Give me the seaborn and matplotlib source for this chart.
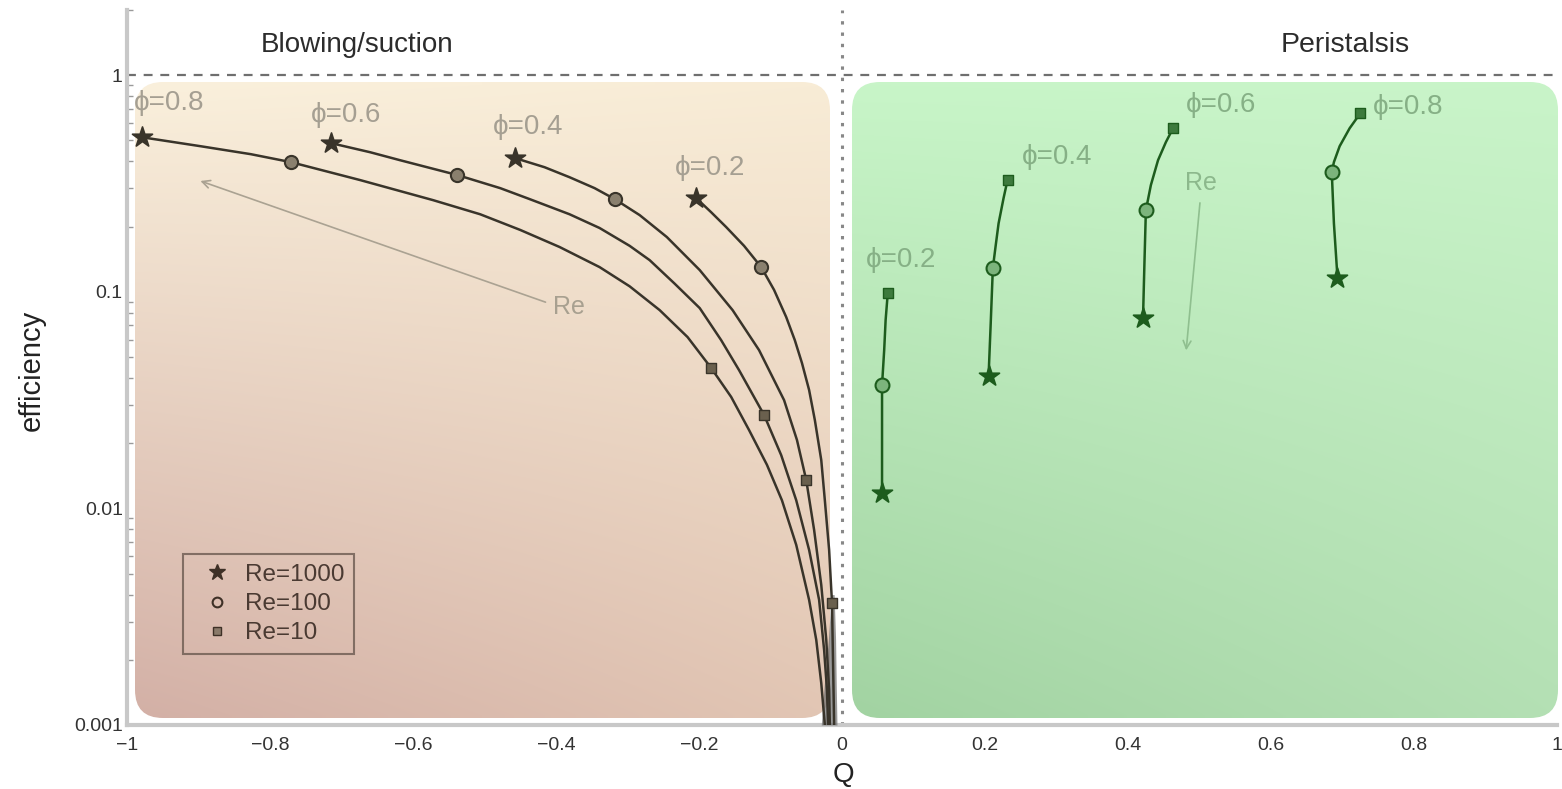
import numpy as np
import pandas as pd
import matplotlib
matplotlib.use("Agg")
import matplotlib.pyplot as plt
import matplotlib.colors as mcolors
from matplotlib.patches import FancyBboxPatch
from matplotlib.lines import Line2D
import seaborn as sns

###1: Data
phi_labels = ["\u03d5=0.8", "\u03d5=0.6", "\u03d5=0.4", "\u03d5=0.2"]

# blowing / suction curves, from the Re=1000 end down to Q~0
blow_q = {
    "0.8": [-0.979, -0.897, -0.827, -0.771, -0.674, -0.572, -0.506, -0.450, -0.395, -0.339, -0.297, -0.255,
            -0.216, -0.183, -0.155, -0.130, -0.105, -0.084, -0.064, -0.046, -0.036, -0.029, -0.024],
    "0.6": [-0.715, -0.660, -0.618, -0.538, -0.478, -0.437, -0.381, -0.339, -0.297, -0.269, -0.234, -0.199,
            -0.169, -0.144, -0.109, -0.085, -0.064, -0.046, -0.032, -0.025, -0.021, -0.0195],
    "0.4": [-0.457, -0.416, -0.381, -0.346, -0.318, -0.283, -0.245, -0.199, -0.153, -0.116, -0.081, -0.063,
            -0.050, -0.039, -0.029, -0.022, -0.018, -0.017],
    "0.2": [-0.204, -0.183, -0.162, -0.137, -0.113, -0.095, -0.078, -0.066, -0.056, -0.046, -0.038, -0.029,
            -0.024, -0.018, -0.014, -0.0126, -0.011],
}
blow_eff = {
    "0.8": [0.517, 0.470, 0.432, 0.397, 0.328, 0.265, 0.228, 0.193, 0.161, 0.130, 0.106, 0.0823,
            0.0618, 0.0445, 0.0327, 0.0230, 0.0159, 0.0109, 0.00678, 0.00378, 0.00247, 0.00156, 0.001],
    "0.6": [0.486, 0.441, 0.405, 0.346, 0.301, 0.268, 0.228, 0.197, 0.163, 0.140, 0.109, 0.0841,
            0.0598, 0.0435, 0.0270, 0.0176, 0.0109, 0.00643, 0.00378, 0.00222, 0.00145, 0.001],
    "0.4": [0.414, 0.376, 0.338, 0.301, 0.268, 0.226, 0.179, 0.126, 0.0823, 0.0538, 0.0316, 0.0207,
            0.0135, 0.00795, 0.00443, 0.00247, 0.00145, 0.001],
    "0.2": [0.271, 0.233, 0.199, 0.163, 0.130, 0.102, 0.0764, 0.0598, 0.0469, 0.0352, 0.0256, 0.0167,
            0.0109, 0.00643, 0.00366, 0.00200, 0.001],
}
# markers on blowing curves: Re=1000, Re=100, Re=10
blow_star_q = [-0.979, -0.715, -0.457, -0.204]
blow_star_eff = [0.517, 0.486, 0.414, 0.271]
blow_circ_q = [-0.771, -0.538, -0.318, -0.113]
blow_circ_eff = [0.397, 0.346, 0.268, 0.130]
blow_sq_q = [-0.183, -0.109, -0.050, -0.014]
blow_sq_eff = [0.0445, 0.0270, 0.0135, 0.00366]

# peristalsis curves, from Re=10 (top) to Re=1000 (bottom)
peri_q = {
    "0.2": [0.064, 0.061, 0.059, 0.056, 0.056, 0.056],
    "0.4": [0.2315, 0.226, 0.219, 0.215, 0.211, 0.208, 0.205],
    "0.6": [0.463, 0.453, 0.442, 0.432, 0.425, 0.423, 0.421],
    "0.8": [0.725, 0.710, 0.696, 0.688, 0.685, 0.688, 0.693],
}
peri_eff = {
    "0.2": [0.0986, 0.0740, 0.0538, 0.0371, 0.0207, 0.0118],
    "0.4": [0.328, 0.271, 0.207, 0.164, 0.129, 0.0717, 0.0408],
    "0.6": [0.569, 0.491, 0.405, 0.311, 0.238, 0.136, 0.0756],
    "0.8": [0.668, 0.569, 0.470, 0.397, 0.357, 0.207, 0.116],
}
peri_sq_q = [0.064, 0.2315, 0.463, 0.725]
peri_sq_eff = [0.0986, 0.328, 0.569, 0.668]
peri_circ_q = [0.056, 0.211, 0.425, 0.685]
peri_circ_eff = [0.0371, 0.129, 0.238, 0.357]
peri_star_q = [0.056, 0.205, 0.421, 0.693]
peri_star_eff = [0.0118, 0.0408, 0.0756, 0.116]

# grey bundle of curves squeezed near Q=0
bundle_eff = [0.001, 0.0015, 0.0025, 0.004]
bundle_left = [-0.029, -0.025, -0.019, -0.015]
bundle_right = [-0.007, -0.008, -0.009, -0.011]

x_ticks = [-1, -0.8, -0.6, -0.4, -0.2, 0, 0.2, 0.4, 0.6, 0.8, 1]
x_ticklabels = ["\u22121", "\u22120.8", "\u22120.6", "\u22120.4", "\u22120.2", "0", "0.2", "0.4", "0.6", "0.8", "1"]
y_ticks = [0.001, 0.01, 0.1, 1]
y_ticklabels = ["0.001", "0.01", "0.1", "1"]

###2: Style
sns.set_theme(style="white")
plt.rcParams["font.family"] = ["Liberation Sans", "DejaVu Sans"]

fig = plt.figure(figsize=(15.62, 7.89), dpi=100)

#background panels (pixel coordinates)
bg = fig.add_axes([0, 0, 1, 1], zorder=0)
bg.set_xlim(0, 1562)
bg.set_ylim(789, 0)
bg.axis("off")

def grad_box(x0, y0, x1, y1, c_tl, c_tr, c_bl, c_br):
    cols = [np.array(mcolors.to_rgb(c)) for c in (c_tl, c_tr, c_bl, c_br)]
    v = np.linspace(0, 1, 120)[:, None, None]
    h = np.linspace(0, 1, 120)[None, :, None]
    img = (1 - v) * ((1 - h) * cols[0] + h * cols[1]) + v * ((1 - h) * cols[2] + h * cols[3])
    im = bg.imshow(img, extent=[x0, x1, y1, y0], aspect="auto", interpolation="bilinear")
    box = FancyBboxPatch((x0, y0), x1 - x0, y1 - y0, boxstyle="round,pad=0,rounding_size=28",
                         facecolor="none", edgecolor="none", transform=bg.transData)
    bg.add_patch(box)
    im.set_clip_path(box)

grad_box(135, 82, 830, 718, "#faf0dc", "#f8ecd6", "#d3b0a6", "#e2c6b4")
grad_box(852, 82, 1558, 718, "#c8f5c8", "#c9f4c9", "#a2d3a2", "#b4e0b4")

ax = fig.add_axes([127 / 1562, 64 / 789, 1430 / 1562, 715 / 789], zorder=1)
ax.patch.set_alpha(0)

###3: Curves
dark = "#39342a"
green = "#1d5c1d"

ax.fill_betweenx(bundle_eff, bundle_left, bundle_right, color="#6e6e6e", alpha=0.7, lw=0, zorder=3)

for k in ["0.8", "0.6", "0.4", "0.2"]:
    sns.lineplot(x=blow_q[k], y=blow_eff[k], ax=ax, sort=False, estimator=None,
                 color=dark, lw=1.8, zorder=4)
for k in ["0.2", "0.4", "0.6", "0.8"]:
    sns.lineplot(x=peri_q[k], y=peri_eff[k], ax=ax, sort=False, estimator=None,
                 color=green, lw=1.8, zorder=4)

# markers
sns.scatterplot(x=blow_star_q, y=blow_star_eff, ax=ax, marker="*", s=230, color=dark, edgecolor=dark, zorder=5)
sns.scatterplot(x=blow_circ_q, y=blow_circ_eff, ax=ax, marker="o", s=90, color="#8a806e", edgecolor=dark, linewidth=1.5, zorder=5)
sns.scatterplot(x=blow_sq_q, y=blow_sq_eff, ax=ax, marker="s", s=60, color="#6a604e", edgecolor=dark, linewidth=1, zorder=5)
sns.scatterplot(x=peri_star_q, y=peri_star_eff, ax=ax, marker="*", s=230, color=green, edgecolor=green, zorder=5)
sns.scatterplot(x=peri_circ_q, y=peri_circ_eff, ax=ax, marker="o", s=100, color="#7cb47c", edgecolor=green, linewidth=1.5, zorder=5)
sns.scatterplot(x=peri_sq_q, y=peri_sq_eff, ax=ax, marker="s", s=60, color="#3d7a3d", edgecolor=green, linewidth=1, zorder=5)

###4: Reference lines and annotations
ax.axhline(1, color="#6f6f6f", ls=(0, (4, 3.5)), lw=1.6, zorder=2)
ax.axvline(0, color="#888888", ls=(0, (1.1, 2.6)), lw=2.2, zorder=2)

ax.text(-0.678, 1.375, "Blowing/suction", fontsize=20, color="#2c2c2c", ha="center", va="center")
ax.text(0.704, 1.375, "Peristalsis", fontsize=20.5, color="#2c2c2c", ha="center", va="center")

left_lab = [(-0.990, 0.743), (-0.743, 0.654), (-0.488, 0.575), (-0.234, 0.372)]
for lab, (qx, ey) in zip(phi_labels, left_lab):
    ax.text(qx, ey, lab, fontsize=20, color="#a59f92", ha="left", va="center", zorder=6)
right_lab = [(0.742, 0.712), (0.481, 0.727), (0.251, 0.418), (0.0335, 0.140)]
for lab, (qx, ey) in zip(phi_labels, right_lab):
    ax.text(qx, ey, lab, fontsize=20, color="#86b086", ha="left", va="center", zorder=6)

ax.annotate("", xy=(-0.901, 0.328), xytext=(-0.411, 0.0887),
            arrowprops=dict(arrowstyle="->", color="#aaa292", lw=1.2, mutation_scale=14))
ax.text(-0.404, 0.085, "Re", fontsize=18, color="#a8a090", ha="left", va="center")
ax.annotate("", xy=(0.481, 0.0521), xytext=(0.501, 0.265),
            arrowprops=dict(arrowstyle="->", color="#8fbf8f", lw=1.2, mutation_scale=14))
ax.text(0.502, 0.317, "Re", fontsize=18, color="#8cb88c", ha="center", va="center")

# legend
handles = [
    Line2D([], [], ls="none", marker="*", markersize=12, color="#3e3026"),
    Line2D([], [], ls="none", marker="o", markersize=7, markerfacecolor="none", markeredgecolor="#3e3026", markeredgewidth=1.5),
    Line2D([], [], ls="none", marker="s", markersize=6, markerfacecolor="#8a7a6a", markeredgecolor="#3e3026"),
]
leg = ax.legend(handles, ["Re=1000", "Re=100", "Re=10"], loc="lower left",
                bbox_to_anchor=(0.039, 0.099), borderaxespad=0, frameon=True, fancybox=False,
                fontsize=17.5, labelspacing=0.3, handletextpad=0.15, handlelength=2.0,
                borderpad=0.4)
leg.get_frame().set_facecolor("none")
leg.get_frame().set_edgecolor("#6b5a50")
leg.get_frame().set_linewidth(1.5)
for t in leg.get_texts():
    t.set_color("#4a3a32")

###5: Axes
ax.set_yscale("log")
ax.set_xlim(-1, 1)
ax.set_ylim(0.001, 2.0)
ax.set_xticks(x_ticks)
ax.set_xticklabels(x_ticklabels, fontsize=14, color="#333333")
ax.set_yticks(y_ticks)
ax.set_yticklabels(y_ticklabels, fontsize=14, color="#333333")
ax.yaxis.set_minor_locator(matplotlib.ticker.LogLocator(base=10, subs=np.arange(2, 10)))
ax.yaxis.set_minor_formatter(matplotlib.ticker.NullFormatter())
ax.tick_params(axis="both", which="major", direction="in", length=8, width=1.2, color="#9a9a9a", pad=3)
ax.tick_params(axis="y", which="minor", direction="in", length=4, width=1.0, color="#9a9a9a", left=True)
ax.tick_params(axis="x", which="major", pad=9)

for side in ["top", "right"]:
    ax.spines[side].set_visible(False)
for side in ["left", "bottom"]:
    ax.spines[side].set_color("#c8c8c8")
    ax.spines[side].set_linewidth(3)

ax.set_xlabel("Q", fontsize=20, color="#222222")
ax.set_ylabel("efficiency", fontsize=21, color="#222222")
ax.xaxis.set_label_coords(0.5007, -0.052)
ax.yaxis.set_label_coords(-0.057, 0.496)

fig.savefig("out.png", dpi=100)
